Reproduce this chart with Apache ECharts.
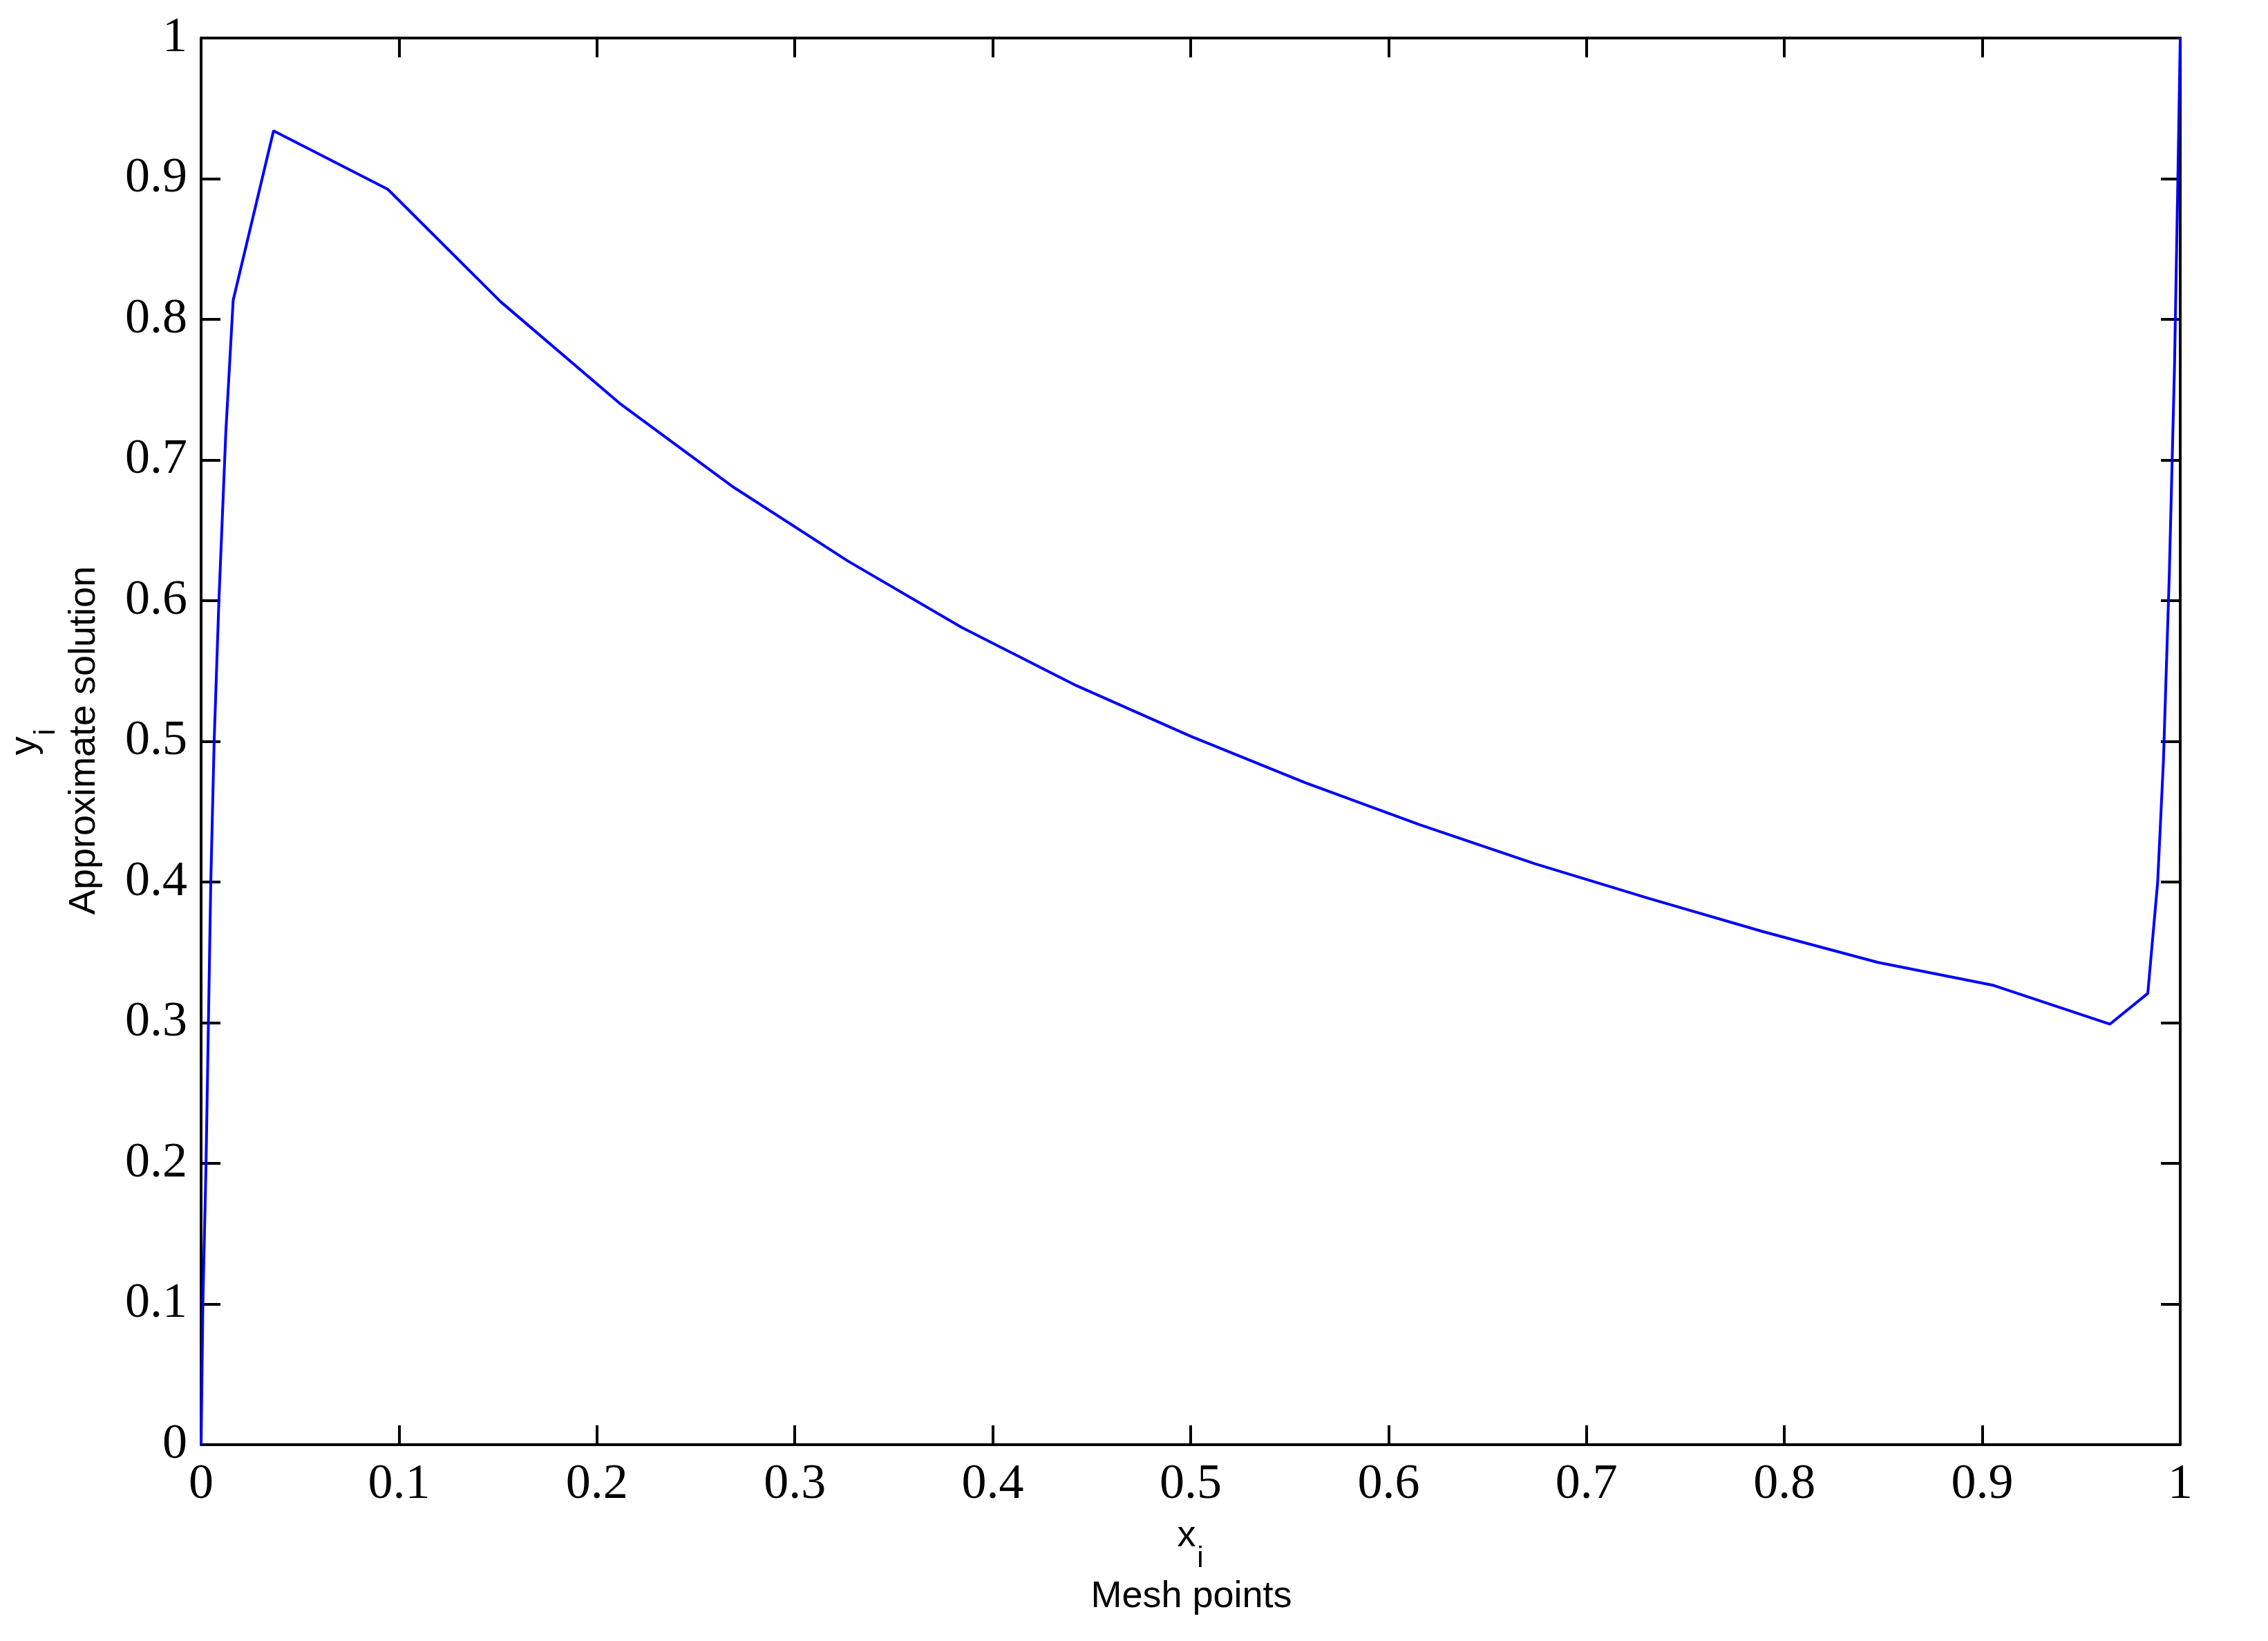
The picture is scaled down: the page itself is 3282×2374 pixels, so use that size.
<!DOCTYPE html>
<html>
<head>
<meta charset="utf-8">
<script src="https://cdn.jsdelivr.net/npm/echarts@6/dist/echarts.min.js"></script>
<style>
html,body{margin:0;padding:0;background:#fff;}
#chart{width:3282px;height:2374px;}
</style>
</head>
<body>
<div id="chart"></div>
<script>
// Mesh points (x_i) and approximate solution (y_i)
var meshX = [0, 0.0009, 0.0025, 0.0049, 0.0066, 0.0090, 0.0125, 0.0162, 0.0366, 0.0943, 0.1513, 0.2113, 0.2690, 0.3268, 0.3845, 0.4423, 0.5000, 0.5577, 0.6155, 0.6740, 0.7317, 0.7895, 0.8472, 0.9057, 0.9645, 0.9836, 0.9886, 0.9915, 0.9945, 0.9971, 0.9988, 1.0];
var solY  = [0, 0.100, 0.200, 0.400, 0.500, 0.600, 0.720, 0.8135, 0.934, 0.8925, 0.8126, 0.7405, 0.6807, 0.6282, 0.5808, 0.5396, 0.5036, 0.4707, 0.4408, 0.4130, 0.3883, 0.3646, 0.3429, 0.3265, 0.2990, 0.3208, 0.400, 0.486, 0.620, 0.7665, 0.900, 1.0];
var xTicks = [0, 0.1, 0.2, 0.3, 0.4, 0.5, 0.6, 0.7, 0.8, 0.9, 1];
var yTicks = [0, 0.1, 0.2, 0.3, 0.4, 0.5, 0.6, 0.7, 0.8, 0.9, 1];
var xLabelMain = 'x', xLabelSub = 'i', xLabelName = 'Mesh points';
var yLabelMain = 'y', yLabelSub = 'i', yLabelName = 'Approximate solution';

var chart = echarts.init(document.getElementById('chart'), null, {renderer: 'canvas'});
var pts = meshX.map(function (x, i) { return [x, solY[i]]; });

var tickFont = 'Liberation Serif, Times New Roman, serif';
var sansFont = 'Liberation Sans, Arial, Helvetica, sans-serif';
function fmt(v) { return String(Math.round(v * 10) / 10); }

function axisCommon(pos, showLabel, isX) {
  return {
    type: 'value',
    position: pos,
    min: 0, max: 1, interval: 0.1,
    splitLine: {show: false},
    axisLine: {show: true, onZero: false, lineStyle: {color: '#000', width: 4}},
    axisTick: {show: true, inside: true, length: 28, lineStyle: {color: '#000', width: 4}},
    axisLabel: {
      show: showLabel, fontFamily: tickFont, fontSize: 72, color: '#000',
      margin: isX ? 22 : 20,
      formatter: function (v) {
        var arr = isX ? xTicks : yTicks;
        for (var k = 0; k < arr.length; k++) if (Math.abs(arr[k] - v) < 1e-9) return fmt(arr[k]);
        return '';
      }
    }
  };
}

var option = {
  animation: false,
  backgroundColor: '#fff',
  grid: {left: 291, right: 127, top: 55, bottom: 284, containLabel: false},
  xAxis: [axisCommon('bottom', true, true), axisCommon('top', false, true)],
  yAxis: [axisCommon('left', true, false), axisCommon('right', false, false)],
  series: [{
    type: 'line',
    xAxisIndex: 0, yAxisIndex: 0,
    data: pts,
    showSymbol: false,
    clip: false,
    lineStyle: {color: '#0000ff', width: 4},
    z: 1
  }],
  graphic: [
    {type: 'text', x: 1717, y: 2222, style: {text: xLabelMain, font: '54px ' + sansFont, fill: '#000', align: 'center', verticalAlign: 'middle'}},
    {type: 'text', x: 1737, y: 2255, style: {text: xLabelSub, font: '42px ' + sansFont, fill: '#000', align: 'center', verticalAlign: 'middle'}},
    {type: 'text', x: 1724, y: 2310, style: {text: xLabelName, font: '54px ' + sansFont, fill: '#000', align: 'center', verticalAlign: 'middle'}},
    {type: 'text', x: 36, y: 1079, rotation: Math.PI / 2, style: {text: yLabelMain, font: '54px ' + sansFont, fill: '#000', align: 'center', verticalAlign: 'middle'}},
    {type: 'text', x: 67, y: 1059, rotation: Math.PI / 2, style: {text: yLabelSub, font: '42px ' + sansFont, fill: '#000', align: 'center', verticalAlign: 'middle'}},
    {type: 'text', x: 122, y: 1071, rotation: Math.PI / 2, style: {text: yLabelName, font: '54px ' + sansFont, fill: '#000', align: 'center', verticalAlign: 'middle'}}
  ]
};
chart.setOption(option);
</script>
</body>
</html>
